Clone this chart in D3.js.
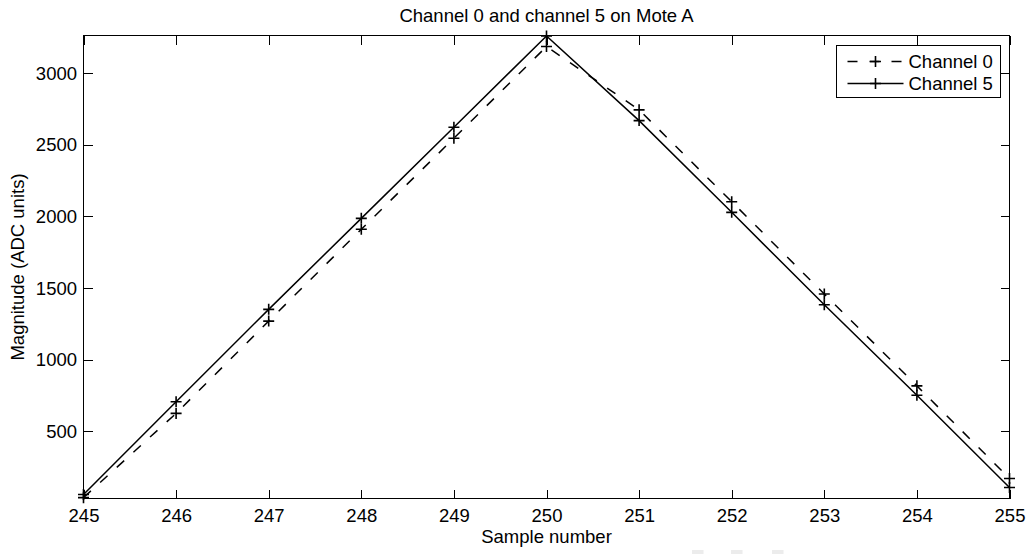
<!DOCTYPE html>
<html>
<head>
<meta charset="utf-8">
<script src="https://cdn.jsdelivr.net/npm/d3@7"></script>
<style>
  html, body { margin: 0; padding: 0; background: #fff; }
  svg { display: block; }
  text { font-family: "Liberation Sans", Arial, Helvetica, sans-serif; fill: #000; }
</style>
</head>
<body>
<svg id="chart" width="1031" height="554"></svg>
<script>
// ---- data ----
const samples = [245, 246, 247, 248, 249, 250, 251, 252, 253, 254, 255];
const channel0 = [38, 626, 1270, 1911, 2546, 3186, 2744, 2103, 1459, 818, 172];
const channel5 = [60, 707, 1352, 1987, 2623, 3260, 2669, 2029, 1384, 753, 109];
const xTicks = [245, 246, 247, 248, 249, 250, 251, 252, 253, 254, 255];
const yTicks = [500, 1000, 1500, 2000, 2500, 3000];
const seriesNames = ["Channel 0", "Channel 5"];
const titleText = "Channel 0 and channel 5 on Mote A";
const xLabel = "Sample number";
const yLabel = "Magnitude (ADC units)";

// ---- layout ----
const W = 1031, H = 554;
const L = 83.5, R = 1009.5, T = 35.5, B = 498.5;
const fontSize = 18.5;

const svg = d3.select("#chart");

const x = d3.scaleLinear().domain([245, 255]).range([L, R]);
const y = d3.scaleLinear().domain([32, 3263]).range([B, T]);

// axes (ticks inward, box on)
const tickLen = 9;
function styleAxis(g, showLabels) {
  g.select(".domain").remove();
  g.selectAll(".tick line").attr("stroke", "#000").attr("stroke-width", 1).attr("shape-rendering", "crispEdges");
  g.selectAll(".tick text").style("font-size", fontSize + "px").attr("fill", "#000");
  if (!showLabels) g.selectAll(".tick text").remove();
}

svg.append("g").attr("transform", `translate(0,${B})`)
  .call(d3.axisBottom(x).tickValues(xTicks).tickFormat(d3.format("d")).tickSize(-tickLen).tickPadding(10.5))
  .call(g => styleAxis(g, true));
svg.append("g").attr("transform", `translate(0,${T})`)
  .call(d3.axisTop(x).tickValues(xTicks).tickSize(-tickLen))
  .call(g => styleAxis(g, false));
svg.append("g").attr("transform", `translate(${L},0)`)
  .call(d3.axisLeft(y).tickValues(yTicks).tickFormat(d3.format("d")).tickSize(-tickLen).tickPadding(6.5))
  .call(g => styleAxis(g, true));
svg.append("g").attr("transform", `translate(${R},0)`)
  .call(d3.axisRight(y).tickValues(yTicks).tickSize(-tickLen))
  .call(g => styleAxis(g, false));

// box
svg.append("rect")
  .attr("x", L).attr("y", T).attr("width", R - L).attr("height", B - T)
  .attr("fill", "none").attr("stroke", "#000").attr("stroke-width", 1)
  .attr("shape-rendering", "crispEdges");

// ---- series ----
const line = d3.line().x(d => x(d[0])).y(d => y(d[1]));
const series = [
  { name: seriesNames[0], values: samples.map((s, i) => [s, channel0[i]]), dash: "10,12.5" },
  { name: seriesNames[1], values: samples.map((s, i) => [s, channel5[i]]), dash: null }
];
const plusPath = "M-5.5,0H5.5M0,-5.5V5.5";

series.forEach(s => {
  svg.append("path")
    .datum(s.values)
    .attr("d", line)
    .attr("fill", "none")
    .attr("stroke", "#000")
    .attr("stroke-width", 1.5)
    .attr("stroke-dasharray", s.dash);
  svg.append("g").selectAll("path")
    .data(s.values)
    .join("path")
    .attr("transform", d => `translate(${x(d[0])},${y(d[1])})`)
    .attr("d", plusPath)
    .attr("stroke", "#000")
    .attr("stroke-width", 1.6)
    .attr("fill", "none");
});

// ---- legend ----
const lg = svg.append("g");
lg.append("rect")
  .attr("x", 836.5).attr("y", 45.5).attr("width", 164).attr("height", 52)
  .attr("fill", "#fff").attr("stroke", "#000").attr("stroke-width", 1)
  .attr("shape-rendering", "crispEdges");
const rowY = [61.5, 83.5];
series.forEach((s, i) => {
  lg.append("line")
    .attr("x1", 847.5).attr("x2", 903.5)
    .attr("y1", rowY[i]).attr("y2", rowY[i])
    .attr("stroke", "#000").attr("stroke-width", 1.5)
    .attr("stroke-dasharray", s.dash ? "10,12" : null);
  lg.append("path")
    .attr("transform", `translate(875.5,${rowY[i]})`)
    .attr("d", plusPath)
    .attr("stroke", "#000").attr("stroke-width", 1.6);
  lg.append("text")
    .attr("x", 908.5).attr("y", rowY[i] + 6.5)
    .style("font-size", fontSize + "px")
    .text(s.name);
});

// ---- titles ----
svg.append("text")
  .attr("x", (L + R) / 2).attr("y", 21.5)
  .attr("text-anchor", "middle")
  .style("font-size", fontSize + "px")
  .text(titleText);
svg.append("text")
  .attr("x", (L + R) / 2).attr("y", 543)
  .attr("text-anchor", "middle")
  .style("font-size", fontSize + "px")
  .text(xLabel);
svg.append("text")
  .attr("transform", `translate(23.5,${(T + B) / 2}) rotate(-90)`)
  .attr("text-anchor", "middle")
  .style("font-size", fontSize + "px")
  .text(yLabel);

// faint artifacts at the bottom edge of the reference image
[692, 731, 772].forEach(px => {
  svg.append("rect").attr("x", px).attr("y", 550).attr("width", 11.5).attr("height", 4)
    .attr("fill", "#ececec");
});
</script>
</body>
</html>
